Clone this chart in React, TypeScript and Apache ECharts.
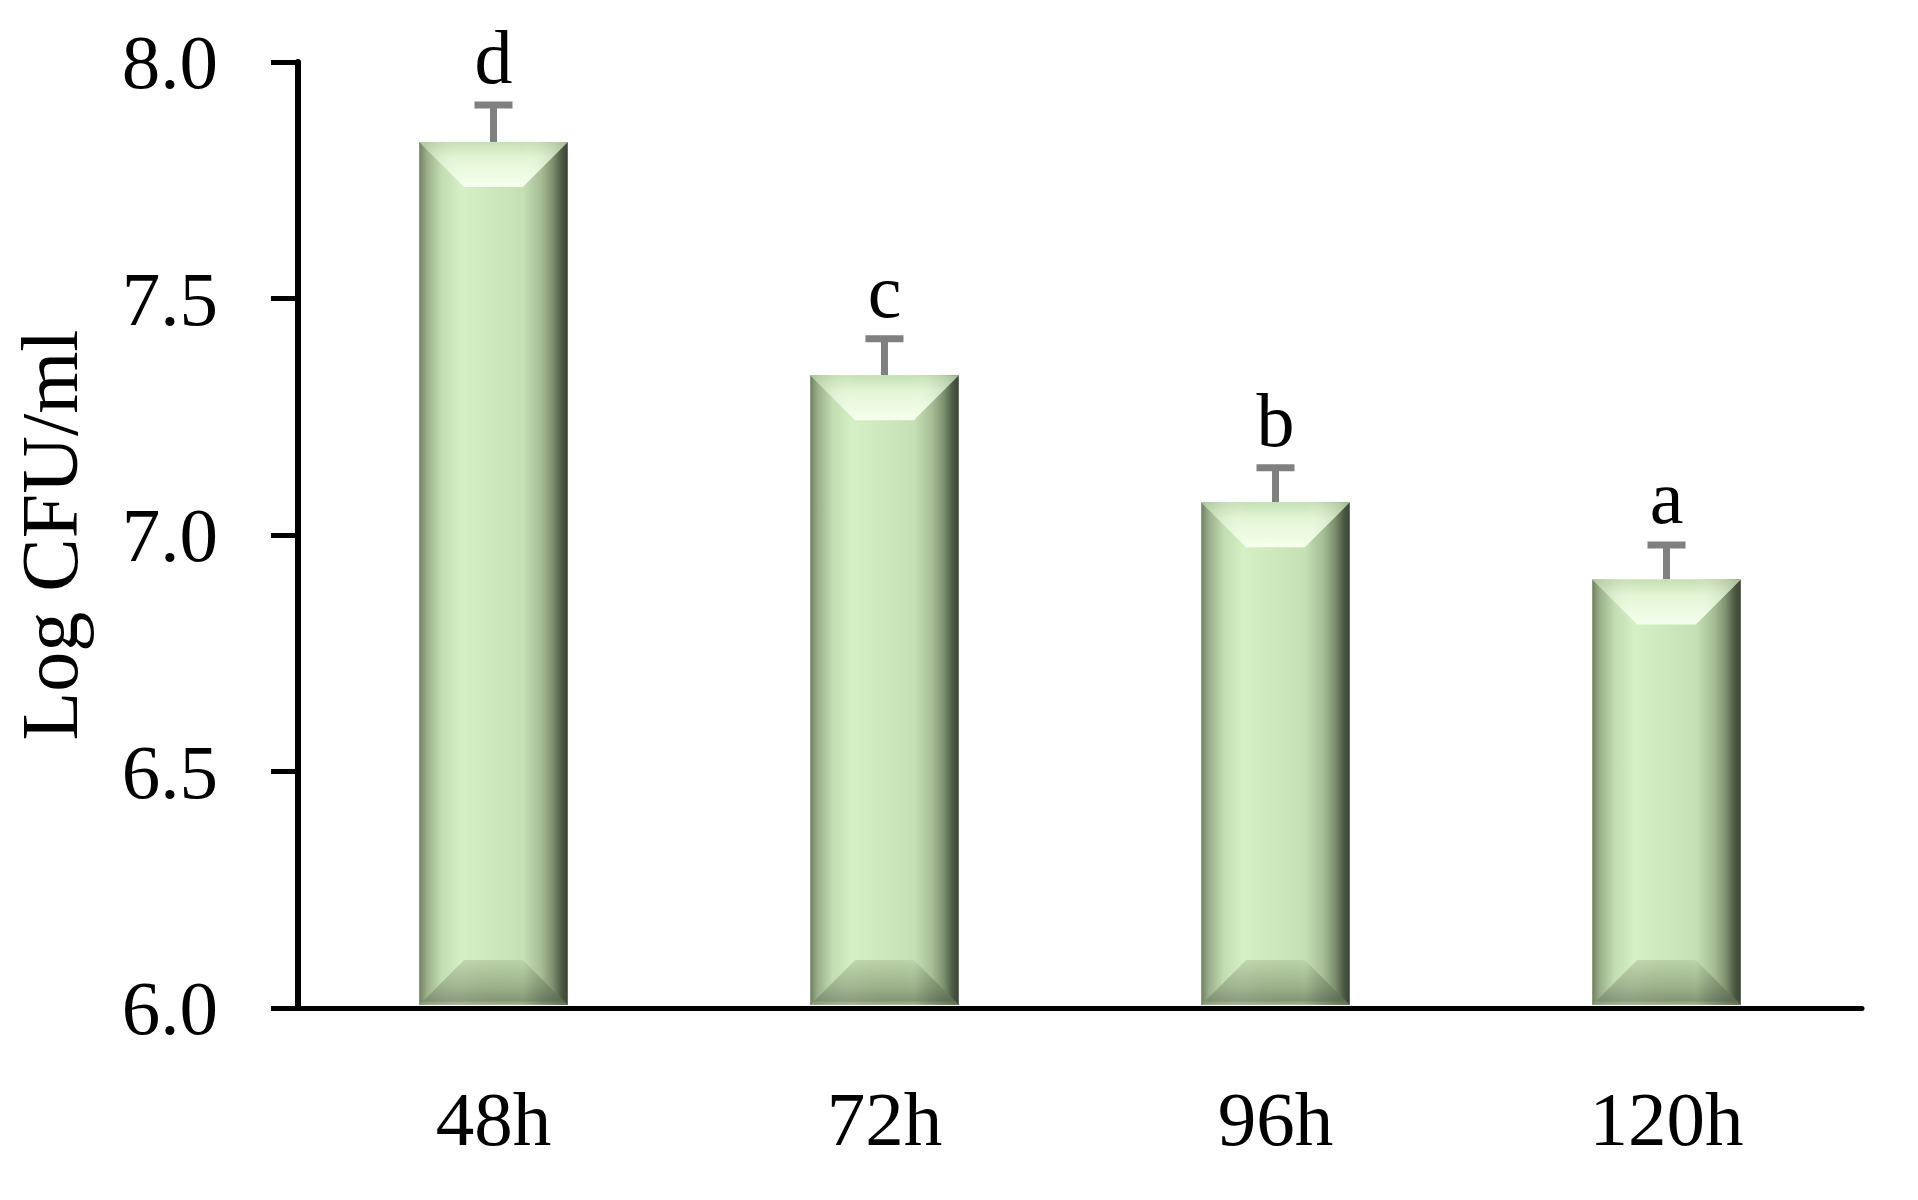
import React, { useEffect, useRef } from "react";
import * as echarts from "echarts";

const categories = ["48h", "72h", "96h", "120h"];
const means = [7.831, 7.338, 7.069, 6.906];
const upperErr = [7.909, 7.415, 7.142, 6.979];
const letters = ["d", "c", "b", "a"];
const yTicks = { min: 6, max: 8, interval: 0.5 };

const FONT = "Liberation Serif";

function lin(x2: number, y2: number, stops: [number, string][]) {
  return new echarts.graphic.LinearGradient(0, 0, x2, y2, stops.map(([offset, color]) => ({ offset, color })));
}

export default function App() {
  const ref = useRef<HTMLDivElement>(null);
  useEffect(() => {
    if (!ref.current) return;
    const chart = echarts.init(ref.current, null, { renderer: "svg" });
    const data = categories.map((_, i) => [i, means[i], upperErr[i]]);
    chart.setOption({
      animation: false,
      backgroundColor: "#ffffff",
      grid: { left: 298, right: 56, top: 62, bottom: 192, containLabel: false },
      xAxis: {
        type: "category",
        data: categories,
        axisLine: { show: true, lineStyle: { color: "#000", width: 5 } },
        axisTick: { show: false },
        axisLabel: { color: "#000", fontFamily: FONT, fontSize: 77, margin: 72 },
        splitLine: { show: false },
      },
      yAxis: {
        type: "value",
        min: yTicks.min,
        max: yTicks.max,
        interval: yTicks.interval,
        name: "Log CFU/ml",
        nameLocation: "middle",
        nameGap: 208,
        nameTextStyle: { color: "#000", fontFamily: FONT, fontSize: 80 },
        axisLine: { show: true, lineStyle: { color: "#000", width: 6 } },
        axisTick: { show: true, inside: false, length: 27, lineStyle: { color: "#000", width: 5 } },
        axisLabel: {
          color: "#000",
          fontFamily: FONT,
          fontSize: 77,
          margin: 80,
          formatter: (v: number) => v.toFixed(1),
        },
        splitLine: { show: false },
      },
      series: [
        {
          type: "custom",
          data,
          encode: { x: 0, y: 1 },
          renderItem: (params: any, api: any) => {
            const idx = api.value(0);
            const mean = api.value(1);
            const up = api.value(2);
            const top = api.coord([idx, mean]);
            const base = api.coord([idx, yTicks.min]);
            const capPt = api.coord([idx, up]);
            const band = api.size([1, 0])[0];
            const w = band * 0.38;
            const x0 = top[0] - w / 2;
            const x1 = top[0] + w / 2;
            const y0 = top[1];
            const y1 = base[1] - 3;
            const h = y1 - y0;
            const b = Math.min(45, h / 2);
            const cx = top[0];
            const children: any[] = [];
            // error bar
            children.push({
              type: "line",
              shape: { x1: cx, y1: y0, x2: cx, y2: capPt[1] },
              style: { stroke: "#808080", lineWidth: 7 },
            });
            children.push({
              type: "line",
              shape: { x1: cx - 19, y1: capPt[1], x2: cx + 19, y2: capPt[1] },
              style: { stroke: "#808080", lineWidth: 7 },
            });
            // main body
            children.push({
              type: "rect",
              shape: { x: x0, y: y0, width: w, height: h },
              style: {
                fill: lin(1, 0, [
                  [0, "#6f7f62"],
                  [0.05, "#9aae8a"],
                  [0.15, "#c3dcb1"],
                  [0.28, "#d4f0c4"],
                  [0.5, "#cde8bd"],
                  [0.7, "#c6e0b6"],
                  [0.82, "#a6bd96"],
                  [0.9, "#7d906e"],
                  [0.96, "#4b5843"],
                  [1, "#3a4534"],
                ]),
              },
            });
            // top bevel
            const topPts = [
              [x0, y0],
              [x1, y0],
              [x1 - b, y0 + b],
              [x0 + b, y0 + b],
            ];
            children.push({
              type: "polygon",
              shape: { points: topPts },
              style: {
                fill: lin(0, 1, [
                  [0, "#c6dfb4"],
                  [0.35, "#e2f6d4"],
                  [1, "#f6ffee"],
                ]),
              },
            });
            children.push({
              type: "polygon",
              shape: { points: topPts },
              style: {
                fill: lin(1, 0, [
                  [0, "rgba(120,145,100,0.35)"],
                  [0.3, "rgba(255,255,255,0)"],
                  [0.7, "rgba(255,255,255,0)"],
                  [1, "rgba(90,110,80,0.35)"],
                ]),
              },
            });
            // bottom bevel
            const botPts = [
              [x0, y1],
              [x1, y1],
              [x1 - b, y1 - b],
              [x0 + b, y1 - b],
            ];
            children.push({
              type: "polygon",
              shape: { points: botPts },
              style: {
                fill: lin(0, 1, [
                  [0, "#bcd4aa"],
                  [0.6, "#9cb28b"],
                  [0.9, "#849877"],
                  [1, "#a7bc97"],
                ]),
              },
            });
            children.push({
              type: "polygon",
              shape: { points: botPts },
              style: {
                fill: lin(1, 0, [
                  [0, "rgba(60,75,50,0.2)"],
                  [0.3, "rgba(255,255,255,0.05)"],
                  [0.7, "rgba(0,0,0,0)"],
                  [1, "rgba(30,40,25,0.45)"],
                ]),
              },
            });
            // letter
            children.push({
              type: "text",
              x: cx,
              y: capPt[1] - 10,
              style: {
                text: letters[params.dataIndex],
                fill: "#000",
                font: `76px "${FONT}"`,
                align: "center",
                verticalAlign: "bottom",
              },
            });
            return { type: "group", children };
          },
        },
      ],
    });
    return () => chart.dispose();
  }, []);
  return <div ref={ref} style={{ width: 1918, height: 1200, position: "absolute", left: 0, top: 0 }} />;
}
